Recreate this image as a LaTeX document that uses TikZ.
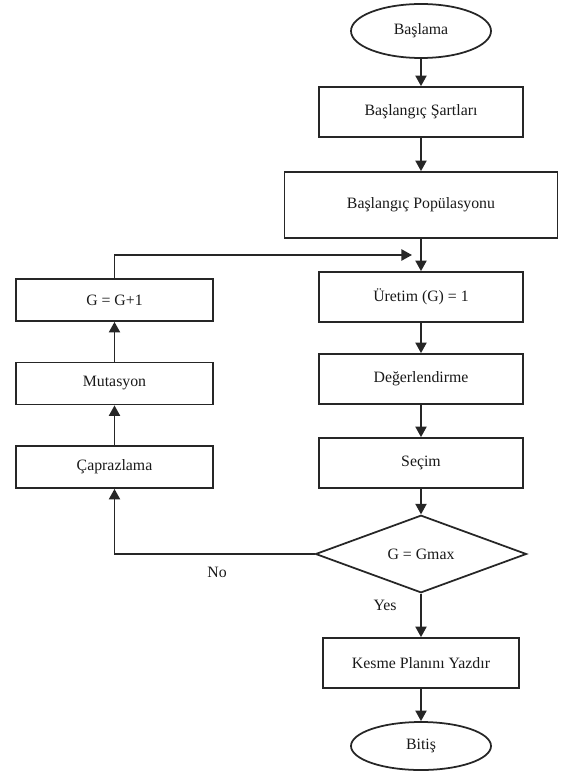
\documentclass[tikz,border=0pt]{standalone}
\usepackage{fontspec}
\setmainfont{Liberation Serif}
\usetikzlibrary{shapes.geometric,arrows.meta}

\begin{document}
\begin{tikzpicture}[
	kutu/.style={
		rectangle,
		draw=black!85,
		line width=1.5pt,
		minimum width=6.12cm,
		minimum height=1.5cm,
		align=center,
		text=black!90,
		font=\fontsize{13.5}{16}\selectfont
	},
	solkutu/.style={kutu, minimum width=5.91cm, minimum height=1.26cm},
	genis/.style={kutu, minimum width=8.19cm, minimum height=1.98cm},
	uc/.style={kutu, ellipse, inner sep=0pt, minimum width=4.2cm, minimum height=1.62cm},
	karar/.style={kutu, diamond, inner sep=0pt, minimum width=6.33cm, minimum height=1.98cm},
	arrow/.style={-{Triangle[width=9.5pt,length=9pt]}, line width=1.5pt, draw=black!85},
	etiket/.style={text=black!90, font=\fontsize{13.5}{16}\selectfont}
]
\useasboundingbox (0,0) rectangle (16.95,-23.13);

% Ana akış
\node[uc] (basla) at (12.63, -0.93) {Başlama};
\node[kutu] (sartlar) at (12.63, -3.36) {Başlangıç Şartları};
\node[genis] (populasyon) at (12.63, -6.15) {Başlangıç Popülasyonu};
\node[kutu] (uretim) at (12.63, -8.91) {Üretim (G) = 1};
\node[kutu] (deger) at (12.63, -11.37) {Değerlendirme};
\node[kutu] (secim) at (12.63, -13.89) {Seçim};
\node[karar] (kontrol) at (12.63, -16.62) {G = Gmax};
\node[kutu, minimum width=5.88cm] (kesme) at (12.63, -19.89) {Kesme Planını Yazdır};
\node[uc, minimum height=1.44cm] (bitis) at (12.63, -22.38) {Bitiş};

% Döngü kolu
\node[solkutu] (artir) at (3.435, -9.0) {G = G+1};
\node[solkutu] (mutasyon) at (3.435, -11.505) {Mutasyon};
\node[solkutu] (caprazlama) at (3.435, -14.01) {Çaprazlama};

% Etiketler
\node[etiket] (hayir) at (6.51, -17.16) {No};
\node[etiket] (evet) at (11.55, -18.15) {Yes};

\coordinate (donus) at (12.36, -7.65);

% Oklar
\draw[arrow] (basla) -- (sartlar);
\draw[arrow] (sartlar) -- (populasyon);
\draw[arrow] (populasyon) -- (uretim);
\draw[arrow] (uretim) -- (deger);
\draw[arrow] (deger) -- (secim);
\draw[arrow] (secim) -- (kontrol);
\draw[arrow] (kontrol) -- (kesme);
\draw[arrow] (kesme) -- (bitis);
\draw[arrow] (kontrol.west) -| (caprazlama.south);
\draw[arrow] (caprazlama) -- (mutasyon);
\draw[arrow] (mutasyon) -- (artir);
\draw[arrow] (artir.north) |- (donus);

\end{tikzpicture}
\end{document}
